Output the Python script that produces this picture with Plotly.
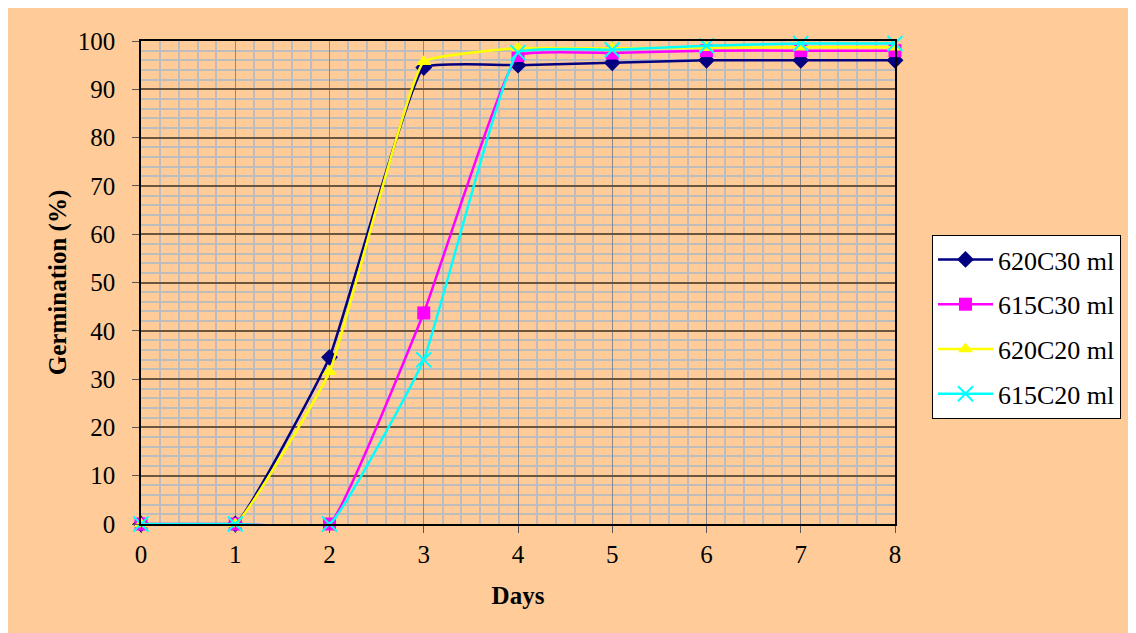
import plotly.graph_objects as go

days = [0, 1, 2, 3, 4, 5, 6, 7, 8]
s620C30 = [0, 0, 34.5, 94.5, 95.0, 95.5, 96.0, 96.0, 96.0]
s615C30 = [0, 0, 0, 43.7, 97.0, 97.5, 98.0, 98.0, 98.0]
s620C20 = [0, 0, 31.5, 95.7, 98.5, 98.5, 98.6, 98.7, 98.7]
s615C20 = [0, 0, 0, 34.0, 97.6, 98.2, 99.0, 99.5, 99.5]
names = ["620C30 ml", "615C30 ml", "620C20 ml", "615C20 ml"]
colors = ["#000080", "#FF00FF", "#FFFF00", "#00FFFF"]
symbols = ["diamond", "square", "triangle-up", "x-thin"]
series = [s620C30, s615C30, s620C20, s615C20]

W, H = 1136, 633
ml, mr, mt, mb = 133, 249, 33, 117
pw, ph = W - ml - mr, H - mt - mb

def px2x(p):
    return (p - ml) / pw

def px2y(p):
    return (H - mb - p) / ph

font = "Liberation Serif, Times New Roman, serif"

fig = go.Figure()
for i, (nm, c, sym, ys) in enumerate(zip(names, colors, symbols, series)):
    marker = dict(symbol=sym, color=c, size=13)
    if sym == "x-thin":
        marker = dict(symbol=sym, color=c, size=15, line=dict(color=c, width=2))
    fig.add_trace(go.Scatter(
        x=days, y=ys, name=nm, mode="lines+markers",
        line=dict(color=c, width=2.5, shape="spline", smoothing=0.3),
        marker=marker, legendgroup=str(i), cliponaxis=False,
    ))

fig.update_layout(
    width=W, height=H, autosize=False,
    margin=dict(l=ml, r=mr, t=mt, b=mb),
    paper_bgcolor="#FFCC99", plot_bgcolor="#FFCC99",
    font=dict(family=font, size=25, color="black"),
    showlegend=True,
    legend=dict(x=px2x(924), y=px2y(227), xanchor="left", yanchor="top",
                bgcolor="white", bordercolor="black", borderwidth=1,
                font=dict(family=font, size=26), tracegroupgap=8,
                traceorder="grouped", itemwidth=55),
    xaxis=dict(range=[0, 8], dtick=1, tick0=0, showgrid=True,
               gridcolor="#8a8a8a", gridwidth=1,
               minor=dict(dtick=0.2, showgrid=True, gridcolor="#bdbdbd", gridwidth=1.5),
               showline=True, linecolor="black", linewidth=1.5, mirror=True,
               ticks="outside", ticklen=7, tickcolor="#555",
               zeroline=False,
               title=dict(text="<b>Days</b>", font=dict(family=font, size=25), standoff=20)),
    yaxis=dict(range=[0, 100], dtick=10, tick0=0, showgrid=True,
               gridcolor="#6b5540", gridwidth=1.5,
               minor=dict(dtick=2, showgrid=True, gridcolor="#bdbdbd", gridwidth=1.5),
               showline=True, linecolor="black", linewidth=1.5, mirror=True,
               ticks="outside", ticklen=7, tickcolor="#555",
               zeroline=False, ticklabelstandoff=12,
               title=dict(text="<b>Germination (%)</b>", font=dict(family=font, size=25), standoff=4)),
)

fig.write_html("out.html")
